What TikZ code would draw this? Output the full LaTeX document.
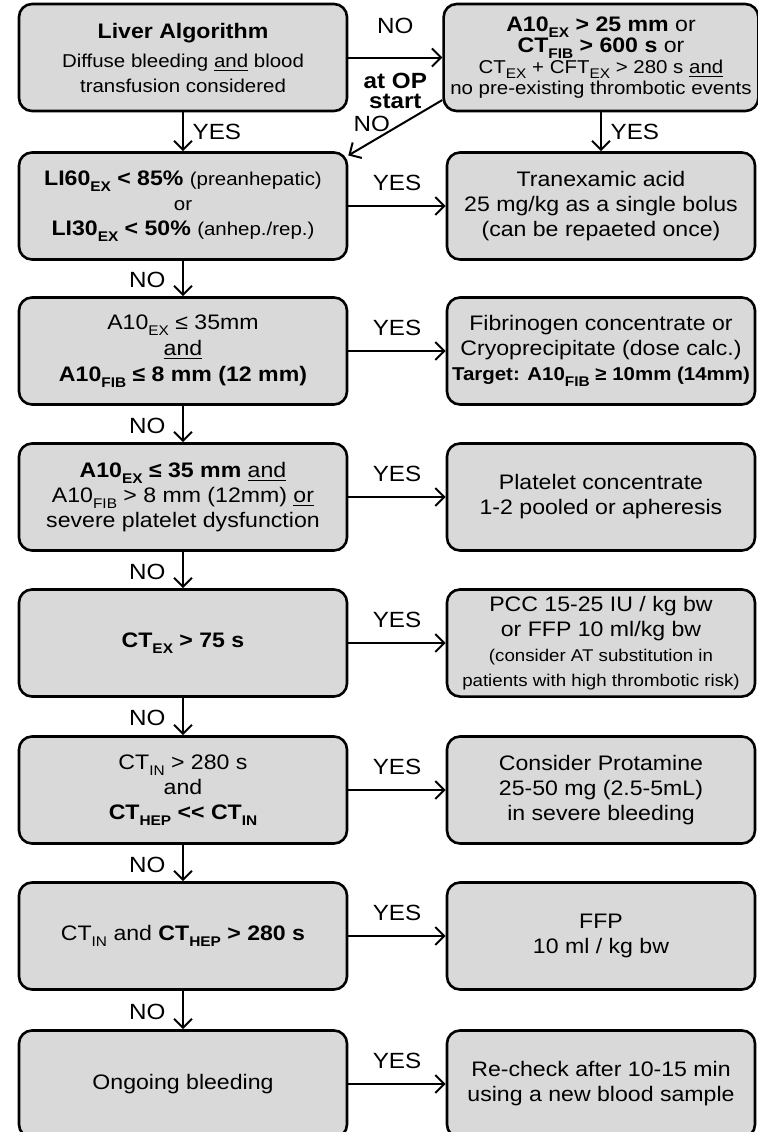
\documentclass[tikz,border=0pt]{standalone}
\usepackage{fontspec}
\setmainfont{Liberation Sans}[FakeStretch=1.1]
\usetikzlibrary{arrows.meta}

\definecolor{boxfill}{RGB}{217,217,217}
\newcommand{\subs}[1]{\raisebox{-.55ex}{\fontsize{7}{7}\selectfont #1}}
\newcommand{\smtxt}{\fontsize{9.3}{11}\selectfont}
\newcommand{\tinytxt}{\fontsize{8.5}{9.5}\selectfont}

\begin{document}
\begin{tikzpicture}[x=0.5pt,y=-0.5pt,
    box/.style={draw,line width=1.3pt,rounded corners=6.5pt,fill=boxfill,
      minimum height=53.5pt,align=center,font=\fontsize{10.5}{12.5}\selectfont},
    test/.style={box,minimum width=164pt},
    todo/.style={box,minimum width=154pt},
    flow/.style={line width=1pt,-{Straight Barb[length=4.5pt,width=9pt]}},
    lbl/.style={font=\fontsize{11}{11}\selectfont}]
        \useasboundingbox (0,0) rectangle (758,1132);
        % left column: tests
        \node[test] (liver) at (183,57.5) {\textbf{Liver Algorithm}\\[2pt]
          {\smtxt Diffuse bleeding \underline{and} blood}\\
          {\smtxt transfusion considered}};
        \node[test] (li) at (183,206) {\textbf{LI60\subs{EX} < 85\%} {\smtxt (preanhepatic)}\\
          {\smtxt or}\\ \textbf{LI30\subs{EX} < 50\%} {\smtxt (anhep./rep.)}};
        \node[test,font=\fontsize{10.5}{13}\selectfont] (a10) at (183,351) {A10\subs{EX} ≤ 35mm\\
          \underline{and}\\ \textbf{A10\subs{FIB} ≤ 8 mm (12 mm)}};
        \node[test] (plt) at (183,497) {\textbf{A10\subs{EX} ≤ 35 mm} \underline{and}\\
          A10\subs{FIB} > 8 mm (12mm) \underline{or}\\ severe platelet dysfunction};
        \node[test] (ctex) at (183,643) {\textbf{CT\subs{EX} > 75 s}};
        \node[test] (ctin) at (183,790) {CT\subs{IN} > 280 s\\ and\\
          \textbf{CT\subs{HEP} <\kern0pt< CT\subs{IN}}};
        \node[test] (cthep) at (183,936) {CT\subs{IN} and \textbf{CT\subs{HEP} > 280 s}};
        \node[test] (ongoing) at (183,1084) {Ongoing bleeding};
        % right column: therapy
        \node[todo,font=\fontsize{10.5}{10.5}\selectfont] (check) at (601,57.5)
          {\textbf{A10\subs{EX} > 25 mm} or\\ \textbf{CT\subs{FIB} > 600 s} or\\
          {\smtxt CT\subs{EX} + CFT\subs{EX} > 280 s \underline{and}}\\
          {\smtxt no pre-existing thrombotic events}};
        \node[todo] (txa) at (601,206) {Tranexamic acid\\ 25 mg/kg as a single bolus\\
          (can be repaeted once)};
        \node[todo,inner xsep=1pt] (fib) at (601,351) {Fibrinogen concentrate or\\ Cryoprecipitate (dose calc.)\\
          {\fontsize{9.3}{10}\selectfont\bfseries Target: A10\subs{FIB} ≥ 10mm (14mm)}};
        \node[todo] (platelet) at (601,497) {Platelet concentrate\\ 1-2 pooled or apheresis};
        \node[todo] (pcc) at (601,643) {PCC 15-25 IU / kg bw\\ or FFP 10 ml/kg bw\\
          {\tinytxt (consider AT substitution in}\\
          {\tinytxt patients with high thrombotic risk)}};
        \node[todo] (protamine) at (601,790) {Consider Protamine\\ 25-50 mg (2.5-5mL)\\
          in severe bleeding};
        \node[todo] (ffp) at (601,936) {FFP\\ 10 ml / kg bw};
        \node[todo] (recheck) at (601,1084) {Re-check after 10-15 min\\
          using a new blood sample};
        % connectors
        \draw[flow] (liver) -- (check) node[lbl,midway,above=8pt] {NO}
          node[lbl,midway,below=4pt,align=center,font=\fontsize{11}{10}\selectfont\bfseries] {at OP\\start};
        \draw[flow] (check.195) -- (li.17) node[lbl,pos=.75,above=1pt] {NO};
        \draw[flow] (liver) -- (li) node[lbl,midway,right=1pt] {YES};
        \draw[flow] (check) -- (txa) node[lbl,midway,right=1pt] {YES};
        \foreach \a/\b in {li/a10,a10/plt,plt/ctex,ctex/ctin,ctin/cthep,cthep/ongoing}
          \draw[flow] (\a) -- (\b) node[lbl,pos=.55,left=5pt] {NO};
        \foreach \a/\b in {li/txa,a10/fib,plt/platelet,ctex/pcc,ctin/protamine,cthep/ffp,ongoing/recheck}
          \draw[flow] (\a) -- (\b) node[lbl,midway,above=4pt] {YES};
\end{tikzpicture}
\end{document}
